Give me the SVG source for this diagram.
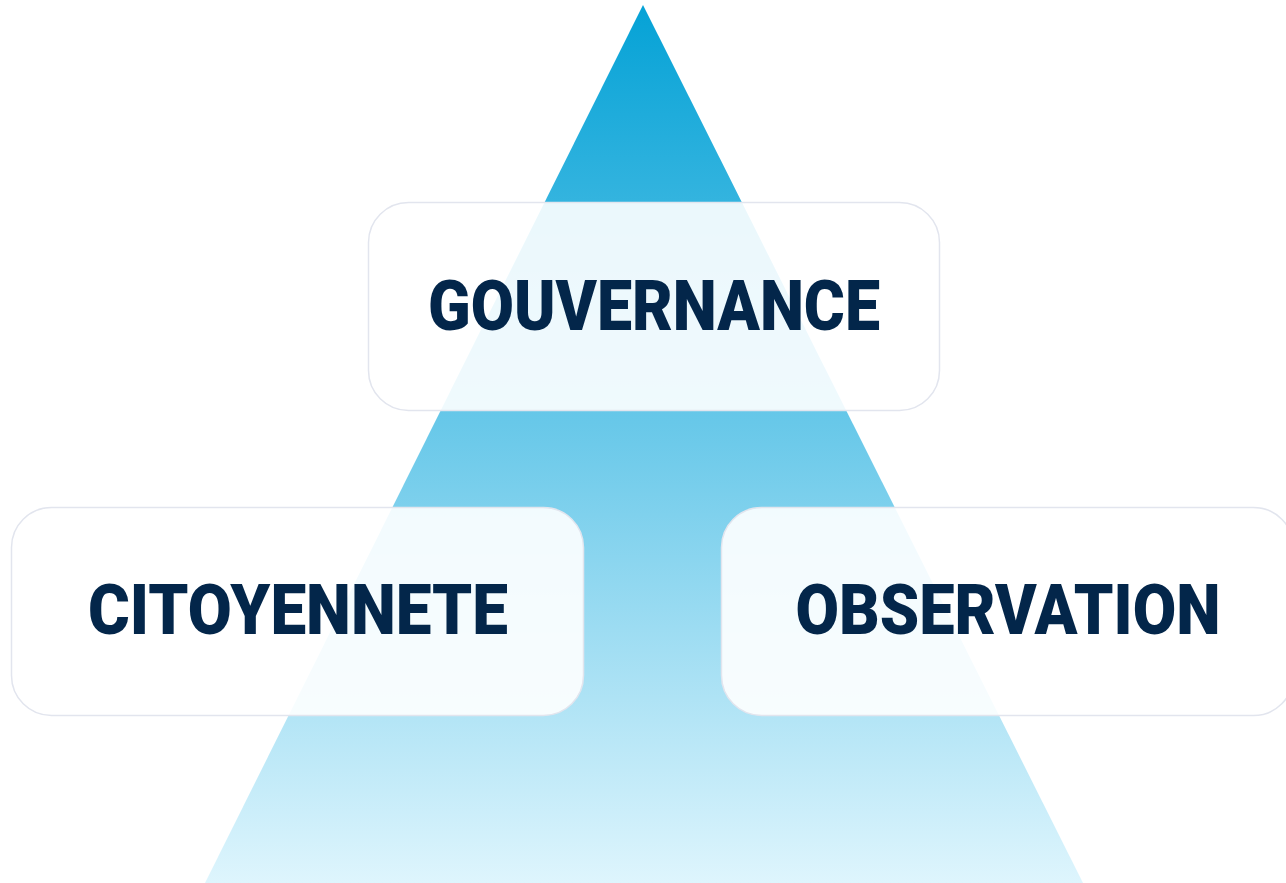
<svg xmlns="http://www.w3.org/2000/svg" width="1286" height="883" viewBox="0 0 1286 883">
<defs>
<linearGradient id="tri" x1="0" y1="5" x2="0" y2="883" gradientUnits="userSpaceOnUse">
<stop offset="0" stop-color="#05a2d6"/>
<stop offset="0.5" stop-color="#6dcaea"/>
<stop offset="1" stop-color="#def5fd"/>
</linearGradient>
<style>
.box{fill:#ffffff;fill-opacity:0.9;stroke:#e2e5ee;stroke-width:1.5}
.lbl{font-family:Roboto,"Liberation Sans",sans-serif;font-weight:900;font-size:70px;fill:#03264a;text-anchor:middle}
</style>
</defs>
<rect width="1286" height="883" fill="#ffffff"/>
<polygon points="643,5 1083,883 205,883" fill="url(#tri)"/>
<g id="connectors"/>
<g id="gouvernance">
<rect class="box" x="368.5" y="202.5" width="571" height="208" rx="40"/>
<text class="lbl" x="654" y="330" textLength="452" lengthAdjust="spacingAndGlyphs">GOUVERNANCE</text>
</g>
<g id="citoyennete">
<rect class="box" x="11.5" y="507.5" width="572" height="208" rx="40"/>
<text class="lbl" x="298" y="634" textLength="420" lengthAdjust="spacingAndGlyphs">CITOYENNETE</text>
</g>
<g id="observation">
<rect class="box" x="721.5" y="507.5" width="572" height="208" rx="40"/>
<text class="lbl" x="1008" y="634" textLength="425" lengthAdjust="spacingAndGlyphs">OBSERVATION</text>
</g>
</svg>
